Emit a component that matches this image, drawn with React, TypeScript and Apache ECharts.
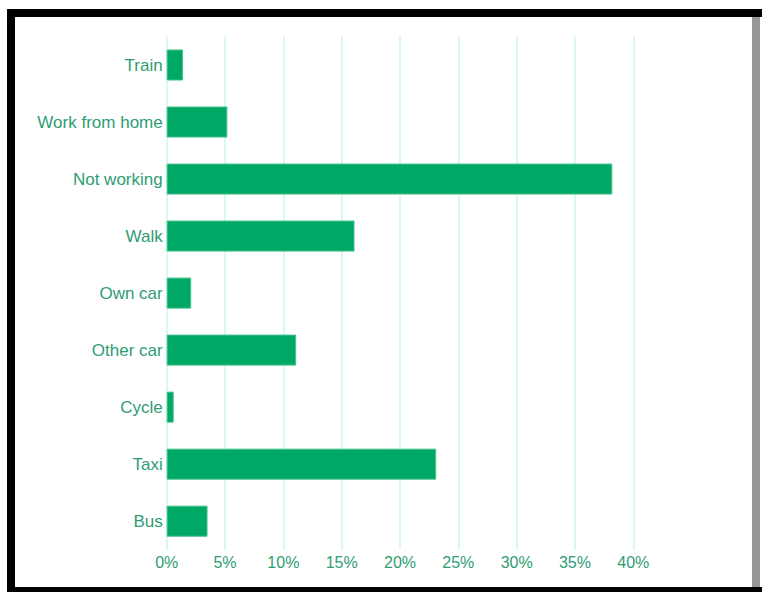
import React, { useEffect, useRef } from "react";
import * as echarts from "echarts";

const categories = ["Train", "Work from home", "Not working", "Walk", "Own car", "Other car", "Cycle", "Taxi", "Bus"];
const shares = [1.4, 5.2, 38.2, 16.1, 2.1, 11.1, 0.6, 23.1, 3.5];
const tickValues = [0, 5, 10, 15, 20, 25, 30, 35, 40];

const TEXT = "#2f9d74";

export default function App() {
  const ref = useRef<HTMLDivElement>(null);
  useEffect(() => {
    if (!ref.current) return;
    const chart = echarts.init(ref.current, undefined, { renderer: "svg" });
    chart.setOption({
      animation: false,
      backgroundColor: "#ffffff",
      grid: { left: 166.7, right: 128.7, top: 36.5, bottom: 42.3, containLabel: false },
      xAxis: {
        type: "value",
        min: tickValues[0],
        max: tickValues[tickValues.length - 1],
        interval: 5,
        axisLine: { show: false },
        axisTick: { show: false },
        axisLabel: {
          color: TEXT,
          fontFamily: "Liberation Sans, Arial, sans-serif",
          fontSize: 16,
          margin: 5,
          formatter: (v: number) => `${v}%`,
        },
        splitLine: { show: true, lineStyle: { color: "#c8f8e6", width: 1.5 } },
      },
      yAxis: {
        type: "category",
        data: categories,
        inverse: true,
        axisLine: { show: false },
        axisTick: { show: false },
        splitLine: { show: false },
        axisLabel: {
          color: TEXT,
          fontFamily: "Liberation Sans, Arial, sans-serif",
          fontSize: 17,
          margin: 4,
        },
      },
      series: [
        {
          type: "bar",
          data: shares,
          barWidth: 31,
          itemStyle: { color: "#00a866", borderColor: "#40bf8c", borderWidth: 1 },
        },
      ],
      graphic: [
        { type: "rect", shape: { x: 7, y: 9, width: 755, height: 8 }, style: { fill: "#000" }, z: 100 },
        { type: "rect", shape: { x: 7, y: 9, width: 8, height: 583 }, style: { fill: "#000" }, z: 100 },
        { type: "rect", shape: { x: 7, y: 587, width: 755, height: 5 }, style: { fill: "#000" }, z: 100 },
        { type: "rect", shape: { x: 752, y: 17, width: 8, height: 570 }, style: { fill: "#979797" }, z: 100 },
      ],
    });
    return () => chart.dispose();
  }, []);
  return (
    <div
      ref={ref}
      style={{ position: "absolute", left: 0, top: 0, width: 762, height: 592 }}
    />
  );
}
